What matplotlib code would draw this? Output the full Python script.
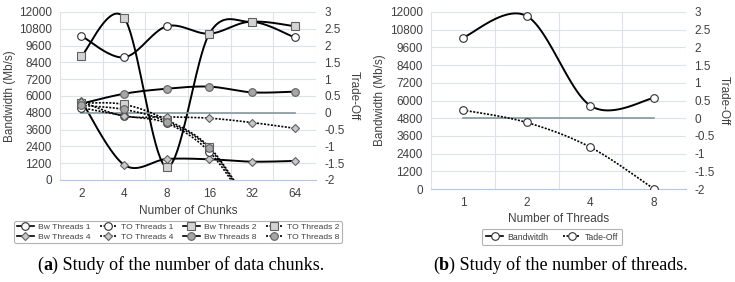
import numpy as np
import matplotlib
matplotlib.use('Agg')
import matplotlib.pyplot as plt
from matplotlib.lines import Line2D
from matplotlib.ticker import FuncFormatter

# ---- data (a): number of chunks ----
chunks = ['2', '4', '8', '16', '32', '64']
bw_t1 = [10300, 8760, 10980, 10450, 11300, 10180]
bw_t2 = [8830, 11600, 930, 10450, 11300, 10980]
bw_t4 = [5660, 1090, 1500, 1480, 1310, 1360]
bw_t8 = [5450, 6160, 6520, 6670, 6260, 6310]
to_t1 = [0.15, -0.09, -0.31, -1.16, -2.9, -4.5]
to_t2 = [0.29, 0.25, -0.21, -1.02, -2.8, -4.4]
to_t4 = [0.33, -0.10, -0.12, -0.16, -0.29, -0.46]
to_t8 = [0.22, 0.10, -0.26, -1.06, -2.85, -4.45]
zero_a = [0, 0, 0, 0, 0, 0]

# ---- data (b): number of threads ----
threads = ['1', '2', '4', '8']
bw_thr = [10260, 11730, 5650, 6170]
to_thr = [0.23, -0.12, -0.82, -2.0]
zero_b = [0, 0, 0, 0]

plt.rcParams['font.family'] = ['Liberation Sans', 'DejaVu Sans']
TXT = '#404040'
GRID = '#dde3ea'
FS = 8.5


def smooth(ys, n=40):
    """Excel-like smoothed line (Bezier, 1/6 tension) through the points."""
    p = np.column_stack([np.arange(len(ys), dtype=float), np.asarray(ys, float)])
    out = []
    for i in range(len(p) - 1):
        p0 = p[i - 1] if i > 0 else p[i]
        p1, p2 = p[i], p[i + 1]
        p3 = p[i + 2] if i + 2 < len(p) else p[i + 1]
        c1 = p1 + (p2 - p0) / 6
        c2 = p2 - (p3 - p1) / 6
        t = np.linspace(0, 1, n)[:, None]
        seg = ((1 - t) ** 3 * p1 + 3 * (1 - t) ** 2 * t * c1
               + 3 * (1 - t) * t ** 2 * c2 + t ** 3 * p2)
        out.append(seg if i == 0 else seg[1:])
    out = np.vstack(out)
    return out[:, 0], out[:, 1]


STY = {
    't1': dict(marker='o', mfc='white', mec='#303030', ms=5.5),
    't2': dict(marker='s', mfc='#d4d4d4', mec='#606060', ms=5.5),
    't4': dict(marker='D', mfc='#c8c8c8', mec='#606060', ms=3.6),
    't8': dict(marker='o', mfc='#a6a6a6', mec='#606060', ms=5.5),
}
DOT = (0, (1.2, 0.9))


def draw(ax, ys, ls, lw, key):
    xs, yy = smooth(ys)
    ax.plot(xs, yy, color='black', ls=ls, lw=lw, zorder=3)
    ax.plot(range(len(ys)), ys, ls='none', zorder=4, mew=0.8, **STY[key])


def setup(ax, ax2, cats, xlabel):
    n = len(cats)
    ax.set_xlim(-0.5, n - 0.5)
    ax.set_ylim(0, 12000)
    ax.set_yticks(np.arange(0, 12001, 1200))
    ax.set_xticks(range(n))
    ax.set_xticklabels(cats)
    ax.set_xticks(np.arange(-0.5, n, 1), minor=True)
    ax.grid(True, which='minor', axis='x', color=GRID, lw=0.8)
    ax.grid(True, which='major', axis='y', color=GRID, lw=0.8)
    ax.tick_params(which='both', length=0, labelsize=FS, colors=TXT, pad=6)
    for s in ['top', 'right', 'left']:
        ax.spines[s].set_visible(False)
        ax2.spines[s].set_visible(False)
    ax.spines['bottom'].set_color('#b4c7e7')
    ax2.spines['bottom'].set_visible(False)
    ax.set_axisbelow(True)
    ax.set_ylabel('Bandwidth (Mb/s)', fontsize=FS, color=TXT)
    ax.set_xlabel(xlabel, fontsize=FS, color=TXT, labelpad=3)
    ax2.set_ylim(-2, 3)
    ax2.set_yticks(np.arange(-2, 3.01, 0.5))
    ax2.yaxis.set_major_formatter(FuncFormatter(lambda v, p: f'{v:g}'))
    ax2.tick_params(length=0, labelsize=FS, colors=TXT, pad=6)
    ax2.set_ylabel('Trade-Off', fontsize=FS, color=TXT, rotation=270, labelpad=11)


fig = plt.figure(figsize=(7.35, 2.82), dpi=100)

# ---------- (a) ----------
axa = fig.add_axes([60 / 735, 1 - 180 / 282, 256 / 735, 168 / 282])
axa2 = axa.twinx()
setup(axa, axa2, chunks, 'Number of Chunks')
axa.yaxis.set_label_coords(-0.17, 0.5)
axa2.plot(range(len(zero_a)), zero_a, color='#8497a0', lw=1.2, zorder=2)
draw(axa, bw_t1, '-', 1.4, 't1')
draw(axa, bw_t2, '-', 1.4, 't2')
draw(axa, bw_t4, '-', 1.4, 't4')
draw(axa, bw_t8, '-', 1.4, 't8')
draw(axa2, to_t1, DOT, 1.2, 't1')
draw(axa2, to_t2, DOT, 1.2, 't2')
draw(axa2, to_t4, DOT, 1.2, 't4')
draw(axa2, to_t8, DOT, 1.2, 't8')
axa2.set_zorder(axa.get_zorder() + 1)
axa.patch.set_visible(False)


def h(key, ls):
    return Line2D([], [], color='black', ls=ls, lw=1.2, mew=0.8, **STY[key])


handles = [h('t1', '-'), h('t4', '-'), h('t1', DOT), h('t4', DOT),
           h('t2', '-'), h('t8', '-'), h('t2', DOT), h('t8', DOT)]
labels = ['Bw Threads 1', 'Bw Threads 4', 'TO Threads 1', 'TO Threads 4',
          'Bw Threads 2', 'Bw Threads 8', 'TO Threads 2', 'TO Threads 8']
leg = fig.legend(handles, labels, ncol=4, loc='center',
                 bbox_to_anchor=(178 / 735, 1 - 232 / 282), fontsize=6.1,
                 handlelength=2.0, columnspacing=1.1, handletextpad=0.5,
                 labelspacing=0.15, borderpad=0.3, frameon=True, fancybox=True)
leg.get_frame().set_edgecolor('#a0a0a0')
leg.get_frame().set_linewidth(0.8)
for t in leg.get_texts():
    t.set_color(TXT)

# ---------- (b) ----------
axb = fig.add_axes([431 / 735, 1 - 189 / 282, 255 / 735, 177 / 282])
axb2 = axb.twinx()
setup(axb, axb2, threads, 'Number of Threads')
axb.yaxis.set_label_coords(-0.176, 0.5)
axb2.plot(range(len(zero_b)), zero_b, color='#8497a0', lw=1.2, zorder=2)
draw(axb, bw_thr, '-', 1.4, 't1')
draw(axb2, to_thr, DOT, 1.2, 't1')
axb2.set_zorder(axb.get_zorder() + 1)
axb.patch.set_visible(False)

legb = fig.legend([h('t1', '-'), h('t1', DOT)], ['Bandwitdh', 'Tade-Off'], ncol=2,
                  loc='center', bbox_to_anchor=(552 / 735, 1 - 237 / 282),
                  fontsize=6.3, handlelength=2.0, columnspacing=1.6,
                  handletextpad=0.5, borderpad=0.45, frameon=True, fancybox=True)
legb.get_frame().set_edgecolor('#a0a0a0')
legb.get_frame().set_linewidth(0.8)
for t in legb.get_texts():
    t.set_color(TXT)

# ---------- captions ----------
serif = ['Liberation Serif', 'DejaVu Serif']
for x0, letter, rest in [(37, 'a', ') Study of the number of data chunks.'),
                         (433, 'b', ') Study of the number of threads.')]:
    t1 = fig.text(x0 / 735, 1 - 265 / 282, '(', fontsize=13, family=serif,
                  va='center', ha='left')
    a = plt.annotate(letter, xy=(1, 0), xycoords=t1, va='bottom', ha='left',
                     fontsize=13, family=serif, weight='bold')
    plt.annotate(rest, xy=(1, 0), xycoords=a, va='bottom', ha='left',
                 fontsize=13, family=serif)

fig.savefig('out.png', dpi=100)
